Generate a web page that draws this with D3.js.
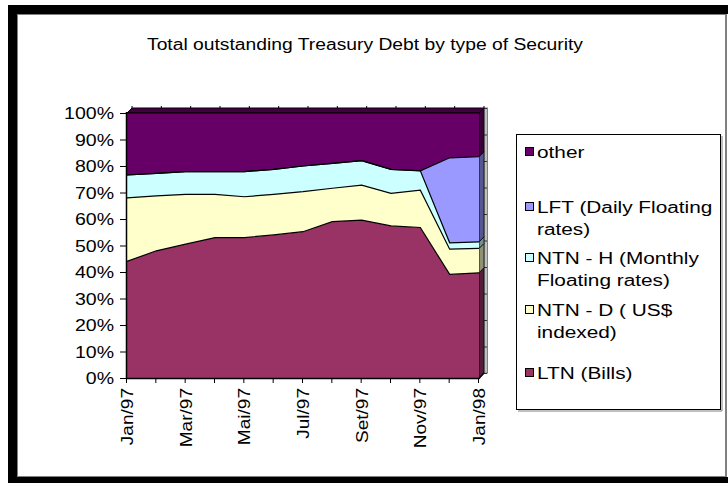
<!DOCTYPE html>
<html>
<head>
<meta charset="utf-8">
<script src="https://cdn.jsdelivr.net/npm/d3@7"></script>
<style>
  body { margin: 0; background: #fff; }
  text { font-family: "Liberation Sans", Arial, sans-serif; fill: #000; }
</style>
</head>
<body>
<svg id="chart" width="728" height="483"></svg>
<script>
// months on the x axis (every month, labels shown every other one)
var months = ['Jan/97','Fev/97','Mar/97','Abr/97','Mai/97','Jun/97','Jul/97','Ago/97','Set/97','Out/97','Nov/97','Dez/97','Jan/98'];

// share of each security in %
var ltn   = [44.0, 48.0, 50.5, 53.0, 53.0, 54.0, 55.2, 59.0, 59.6, 57.4, 56.8, 39.1, 39.7];
var ntnD  = [24.0, 20.7, 18.8, 16.3, 15.4, 15.3, 15.1, 12.6, 13.2, 12.3, 14.1,  9.5,  9.2];
var ntnH  = [ 8.6,  8.5,  8.6,  8.6,  9.5,  9.4,  9.7,  9.4,  9.2,  9.0,  7.3,  2.4,  2.5];
var lft   = [ 0.0,  0.0,  0.0,  0.0,  0.0,  0.0,  0.0,  0.0,  0.0,  0.0,  0.0, 32.1, 32.1];
var other = [23.4, 22.8, 22.1, 22.1, 22.1, 21.3, 20.0, 19.0, 18.0, 21.3, 21.8, 16.9, 16.5];

var seriesKeys   = ['ltn', 'ntnD', 'ntnH', 'lft', 'other'];
var seriesColors = ['#993366', '#FFFFCC', '#CCFFFF', '#9999FF', '#660066'];
// legend entries, top to bottom (each entry may wrap on two lines)
var legendKeys  = ['other', 'lft', 'ntnH', 'ntnD', 'ltn'];
var legendLines = [['other'], ['LFT (Daily Floating', 'rates)'], ['NTN - H (Monthly', 'Floating rates)'], ['NTN - D ( US$', 'indexed)'], ['LTN (Bills)']];
var yTicks = [0, 0.1, 0.2, 0.3, 0.4, 0.5, 0.6, 0.7, 0.8, 0.9, 1];

var title = 'Total outstanding Treasury Debt by type of Security';

var svg = d3.select('#chart');

// stretch text horizontally like the original rendering
function stretch(sel, k) {
  sel.each(function () {
    var w = this.getComputedTextLength();
    d3.select(this).attr('textLength', w * k).attr('lengthAdjust', 'spacingAndGlyphs');
  });
}

//outer frame
svg.append('rect').attr('x', 8).attr('y', 5).attr('width', 720).attr('height', 478).attr('fill', '#000');
svg.append('rect').attr('x', 17.5).attr('y', 14.5).attr('width', 708).attr('height', 462)
  .attr('fill', '#fff').attr('stroke', '#808080');
svg.append('rect').attr('x', 726.5).attr('y', 14).attr('width', 2).attr('height', 463).attr('fill', '#fff');

//title
svg.append('text').attr('x', 365).attr('y', 50).attr('text-anchor', 'middle')
  .style('font-size', '16px').text(title)
  .attr('textLength', 436).attr('lengthAdjust', 'spacingAndGlyphs');

//data table for the stack
var rows = months.map(function (m, i) {
  return { month: m, ltn: ltn[i], ntnD: ntnD[i], ntnH: ntnH[i], lft: lft[i], other: other[i] };
});
var layers = d3.stack().keys(seriesKeys).offset(d3.stackOffsetExpand)(rows);

var x = d3.scalePoint().domain(months).range([127, 479]);
var y = d3.scaleLinear().domain([0, 1]).range([378, 113]);
var depth = 5;
var xL = x(months[0]), xR = x(months[months.length - 1]);

var color = d3.scaleOrdinal().domain(seriesKeys).range(seriesColors);

//back wall edge on the right
svg.append('rect').attr('x', xR + depth).attr('y', y(1) - depth)
  .attr('width', 3.5).attr('height', y(0) - y(1))
  .attr('fill', '#c0c0c0').attr('stroke', '#808080');
svg.selectAll('.wtick').data(yTicks).enter().append('line')
  .attr('x1', xR + depth).attr('x2', xR + depth + 3)
  .attr('y1', function (d) { return y(d) - depth + 0.5; })
  .attr('y2', function (d) { return y(d) - depth + 0.5; })
  .attr('stroke', '#333');

//top face of the stack
svg.append('polygon')
  .attr('points', [[xL, y(1)], [xR, y(1)], [xR + depth, y(1) - depth], [xL + depth, y(1) - depth]].join(' '))
  .attr('fill', d3.color('#660066').darker(1.2)).attr('stroke', '#000');
svg.selectAll('.ttick').data(months).enter().append('line')
  .attr('x1', function (d) { return x(d) + depth; }).attr('x2', function (d) { return x(d) + depth; })
  .attr('y1', y(1) - depth).attr('y2', y(1) - depth - 2)
  .attr('stroke', '#000');

//right side faces of every layer
svg.selectAll('.side').data(layers).enter().append('polygon')
  .attr('points', function (L) {
    var p = L[L.length - 1];
    return [[xR, y(p[0])], [xR, y(p[1])], [xR + depth, y(p[1]) - depth], [xR + depth, y(p[0]) - depth]].join(' ');
  })
  .attr('fill', function (L) { return d3.color(color(L.key)).darker(1.6); })
  .attr('stroke', '#000').attr('stroke-width', 0.8);

//front areas
var area = d3.area()
  .x(function (d) { return x(d.data.month); })
  .y0(function (d) { return y(d[0]); })
  .y1(function (d) { return y(d[1]); });
svg.selectAll('.area').data(layers).enter().append('path')
  .attr('d', area).attr('fill', function (L) { return color(L.key); });

var topLine = d3.line()
  .x(function (d) { return x(d.data.month); })
  .y(function (d) { return y(d[1]); });
svg.selectAll('.bound').data(layers).enter().append('path')
  .attr('d', topLine).attr('fill', 'none').attr('stroke', '#000').attr('stroke-width', 1.2);

//y axis
svg.append('line').attr('x1', xL - 0.5).attr('x2', xL - 0.5).attr('y1', y(1) - 1).attr('y2', y(0) + 0.5)
  .attr('stroke', '#000').attr('stroke-width', 1.5);
svg.selectAll('.ytick').data(yTicks).enter().append('line')
  .attr('x1', xL - 7).attr('x2', xL - 1)
  .attr('y1', function (d) { return y(d) + 0.5; }).attr('y2', function (d) { return y(d) + 0.5; })
  .attr('stroke', '#000');
var yLab = svg.selectAll('.ylab').data(yTicks).enter().append('text')
  .attr('x', 114).attr('y', function (d) { return y(d) + 6; })
  .attr('text-anchor', 'end').style('font-size', '16px')
  .text(function (d) { return d3.format('.0%')(d); });
stretch(yLab, 1.22);

//x axis
svg.append('path')
  .attr('d', 'M' + (xL - 1) + ',' + (y(0) + 0.5) + 'H' + xR + 'L' + (xR + depth) + ',' + (y(0) - depth))
  .attr('fill', 'none').attr('stroke', '#000').attr('stroke-width', 1.5);
svg.selectAll('.xtick').data(months).enter().append('line')
  .attr('x1', function (d) { return x(d) - 0.5; }).attr('x2', function (d) { return x(d) - 0.5; })
  .attr('y1', y(0)).attr('y2', y(0) + 5)
  .attr('stroke', '#000');
var xLab = svg.selectAll('.xlab').data(months.filter(function (d, i) { return i % 2 === 0; }))
  .enter().append('text')
  .attr('transform', function (d) { return 'translate(' + (x(d) + 6) + ',' + 388 + ') rotate(-90)'; })
  .attr('text-anchor', 'end').style('font-size', '16px')
  .text(function (d) { return d; });
stretch(xLab, 1.19);

//legend
var lg = svg.append('g');
lg.append('path').attr('d', 'M722,136V411H518').attr('fill', 'none').attr('stroke', '#808080');
lg.append('rect').attr('x', 516.5).attr('y', 134.5).attr('width', 204).attr('height', 275)
  .attr('fill', '#fff').attr('stroke', '#000');
var legendRowY = [152, 207, 258, 310, 373];
legendKeys.forEach(function (k, i) {
  var cy = legendRowY[i];
  lg.append('rect').attr('x', 525.5).attr('y', cy - 4.5).attr('width', 8).attr('height', 8)
    .attr('fill', color(k)).attr('stroke', '#000');
  legendLines[i].forEach(function (t, j) {
    var tx = lg.append('text').attr('x', 537).attr('y', cy + 6 + j * 22)
      .style('font-size', '16px').text(t);
    stretch(tx, 1.3);
  });
});
</script>
</body>
</html>
